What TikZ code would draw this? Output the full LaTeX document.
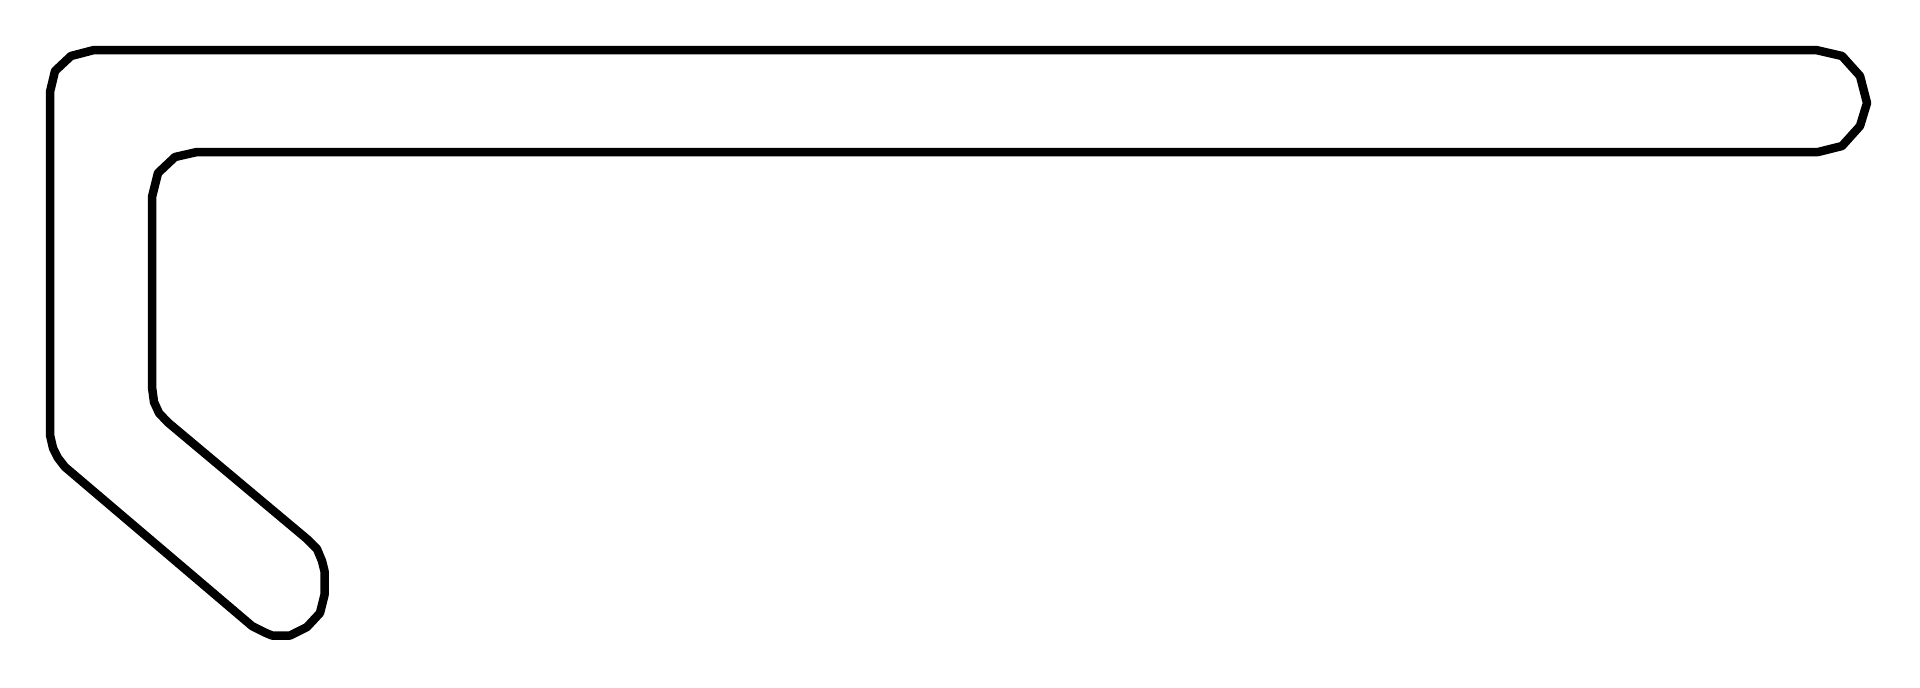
\documentclass[tikz,border=0pt]{standalone}
\usepackage{tikz}
\usepackage{xcolor}

\begin{document}
\begin{tikzpicture}[x=1pt,y=-1pt]
\useasboundingbox (0,0) rectangle (1920,688);
\tikzset{outline/.style={draw=black,line width=8.5pt,line join=round}}
% hook shaped outline
\draw[outline] (94,50) -- (71,56) -- (55,71) -- (50,92)
    -- (50,435) -- (53,448) -- (58,458) -- (65,467)
    -- (252,626) -- (266,633) -- (272,635.5) -- (290,635.5)
    -- (307,627) -- (320,613) -- (324.5,595) -- (324.5,571)
    -- (322,561) -- (317,549) -- (307,539)
    -- (168,422.5) -- (159,413) -- (154,402) -- (152,387)
    -- (152,197) -- (158,173) -- (175,157) -- (197,152)
    -- (1818,152) -- (1842,146) -- (1860,126) -- (1867,103)
    -- (1860,76) -- (1842,56) -- (1816,50) -- cycle;
\end{tikzpicture}
\end{document}
